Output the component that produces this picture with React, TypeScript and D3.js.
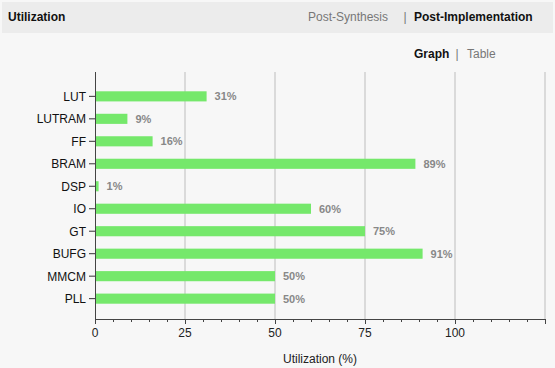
import React from "react";
import * as d3 from "d3";

const categories = ["LUT", "LUTRAM", "FF", "BRAM", "DSP", "IO", "GT", "BUFG", "MMCM", "PLL"];
const values = [31, 9, 16, 89, 1, 60, 75, 91, 50, 50];
const majorTicks = [0, 25, 50, 75, 100];

const W = 555;
const H = 368;
const FONT = "'Liberation Sans', Arial, sans-serif";

export default function App() {
  const x = d3.scaleLinear().domain([0, 125]).range([95, 545]);
  const y = d3.scaleBand<string>().domain(categories).range([85, 310]).paddingInner(0.55).paddingOuter(0.28);
  const minor = d3.range(0, 126, 5).filter((v) => v % 25 !== 0);
  const top = 72;
  const bottom = 319;

  return (
    <svg width={W} height={H} style={{ position: "absolute", left: 0, top: 0, fontFamily: FONT }}>
      <rect x={0} y={0} width={W} height={H} fill="#f7f7f7" />
      <rect x={2} y={2} width={W - 4} height={31} fill="#ececec" />
      <text x={8} y={21} fontSize={12} fontWeight="bold" fill="#111">Utilization</text>
      <text x={308} y={20.5} fontSize={12} fill="#777">Post-Synthesis</text>
      <text x={405} y={20.5} fontSize={12} fill="#777" textAnchor="middle">|</text>
      <text x={414} y={20.5} fontSize={12} fontWeight="bold" fill="#111">Post-Implementation</text>
      <text x={414} y={57.5} fontSize={12} fontWeight="bold" fill="#111">Graph</text>
      <text x={457} y={57.5} fontSize={12} fill="#777" textAnchor="middle">|</text>
      <text x={467} y={57.5} fontSize={12} fill="#777">Table</text>

      {majorTicks.filter((t) => t > 0).concat([125]).map((t) => (
        <line key={"g" + t} x1={x(t)} x2={x(t)} y1={top} y2={bottom} stroke="#bdbdbd" strokeWidth={1} />
      ))}

      {categories.map((c, i) => {
        const yy = y(c)!;
        const bw = y.bandwidth();
        return (
          <g key={c}>
            <rect x={x(0)} y={yy} width={x(values[i]) - x(0)} height={bw} fill="#75e86b" />
            <text x={x(values[i]) + 8} y={yy + bw / 2 + 4} fontSize={11} fontWeight="bold" fill="#888">
              {values[i]}%
            </text>
            <line x1={89} x2={95} y1={yy + bw / 2} y2={yy + bw / 2} stroke="#333" />
            <text x={86} y={yy + bw / 2 + 4.5} fontSize={12} fill="#111" textAnchor="end">{c}</text>
          </g>
        );
      })}

      <line x1={95.5} x2={95.5} y1={top} y2={bottom + 0.5} stroke="#444" />
      <line x1={95} x2={545.5} y1={bottom + 0.5} y2={bottom + 0.5} stroke="#444" />
      {majorTicks.concat([125]).map((t) => (
        <line key={"M" + t} x1={Math.round(x(t)) + 0.5} x2={Math.round(x(t)) + 0.5} y1={bottom} y2={bottom + 5} stroke="#444" />
      ))}
      {minor.map((t) => (
        <line key={"m" + t} x1={Math.round(x(t)) + 0.5} x2={Math.round(x(t)) + 0.5} y1={bottom} y2={bottom + 3} stroke="#444" />
      ))}
      {majorTicks.map((t) => (
        <text key={"l" + t} x={x(t)} y={337} fontSize={12} fill="#222" textAnchor="middle">{t}</text>
      ))}
      <text x={320} y={363} fontSize={12} fill="#222" textAnchor="middle">Utilization (%)</text>
    </svg>
  );
}
